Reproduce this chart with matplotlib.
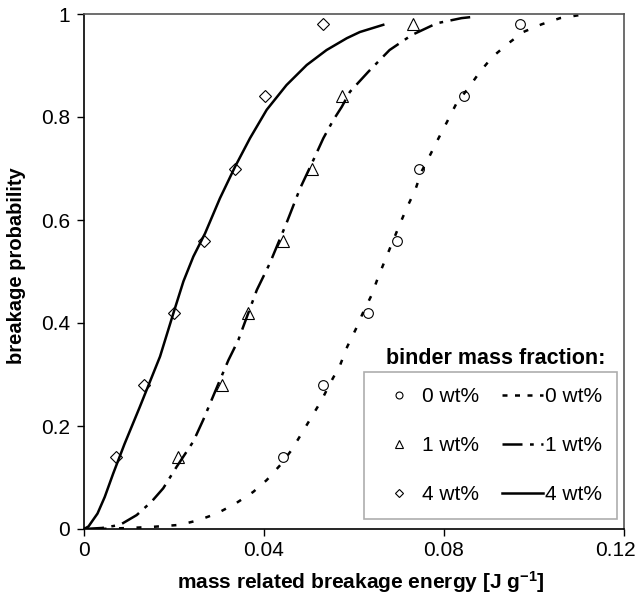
import matplotlib
matplotlib.use("Agg")
import matplotlib.pyplot as plt
from matplotlib.lines import Line2D
from matplotlib.transforms import ScaledTranslation

plt.rcParams['font.family'] = ['Liberation Sans', 'DejaVu Sans']
plt.rcParams['mathtext.fontset'] = 'custom'
plt.rcParams['mathtext.rm'] = 'Liberation Sans:bold'
plt.rcParams['mathtext.default'] = 'rm'

# measured breakage probability (same y levels for every binder fraction)
prob_levels = [0.14, 0.28, 0.42, 0.56, 0.70, 0.84, 0.98]
energy_0wt = [0.0442, 0.0530, 0.0632, 0.0695, 0.0745, 0.0845, 0.0969]
energy_1wt = [0.0208, 0.0306, 0.0365, 0.0443, 0.0506, 0.0573, 0.0730]
energy_4wt = [0.0071, 0.0133, 0.0201, 0.0267, 0.0336, 0.0403, 0.0532]

# fitted curves
fit0_x = [0, 0.005, 0.010, 0.015, 0.0213, 0.0254, 0.0295, 0.0336, 0.0376, 0.0406,
          0.0436, 0.0461, 0.0484, 0.0506, 0.0528, 0.0547, 0.0569, 0.0585, 0.0604,
          0.0621, 0.0639, 0.0652, 0.0669, 0.0701, 0.0717, 0.0736, 0.0750, 0.0769,
          0.0788, 0.0807, 0.0828, 0.0854, 0.0880, 0.0908, 0.0943, 0.0976, 0.1017,
          0.1058, 0.1102, 0.1125]
fit0_y = [0, 0.0005, 0.002, 0.004, 0.008, 0.017, 0.030, 0.049, 0.072, 0.095,
          0.124, 0.153, 0.186, 0.218, 0.250, 0.283, 0.318, 0.354, 0.388,
          0.422, 0.454, 0.485, 0.522, 0.590, 0.623, 0.658, 0.694, 0.726,
          0.759, 0.791, 0.827, 0.856, 0.888, 0.917, 0.943, 0.965, 0.980,
          0.992, 0.998, 1.0]

fit1_x = [0, 0.004, 0.008, 0.0117, 0.0150, 0.0176, 0.0206, 0.0243, 0.0265, 0.0302,
          0.0321, 0.0343, 0.0362, 0.0384, 0.0413, 0.0450, 0.0480, 0.0510, 0.0532,
          0.0554, 0.0573, 0.0591, 0.0632, 0.0679, 0.0728, 0.0784, 0.0839, 0.0860]
fit1_y = [0, 0.002, 0.008, 0.027, 0.053, 0.079, 0.121, 0.170, 0.212, 0.289,
          0.328, 0.367, 0.412, 0.464, 0.516, 0.594, 0.661, 0.717, 0.759,
          0.794, 0.820, 0.849, 0.888, 0.930, 0.959, 0.982, 0.992, 0.994]

fit4_x = [0, 0.001, 0.003, 0.0046, 0.0065, 0.0090, 0.0124, 0.0169, 0.0199, 0.0221,
          0.0243, 0.0269, 0.0302, 0.0336, 0.0369, 0.0406, 0.0450, 0.0495, 0.0539,
          0.0584, 0.0613, 0.0665]
fit4_y = [0, 0.005, 0.030, 0.062, 0.108, 0.165, 0.237, 0.335, 0.420, 0.481,
          0.529, 0.574, 0.642, 0.704, 0.759, 0.814, 0.862, 0.901, 0.930,
          0.953, 0.965, 0.979]

labels = ['0 wt%', '1 wt%', '4 wt%']
xtick_vals = [0, 0.04, 0.08, 0.12]
xtick_labels = ['0', '0.04', '0.08', '0.12']
ytick_vals = [0, 0.2, 0.4, 0.6, 0.8, 1.0]
ytick_labels = ['0', '0.2', '0.4', '0.6', '0.8', '1']

fig = plt.figure(figsize=(6.41, 5.96), dpi=100)
ax = fig.add_axes([84 / 641, 1 - 529 / 596, 540 / 641, 515 / 596])

lw = 1.8
ax.plot(fit0_x, fit0_y, color='black', lw=lw, dashes=(2, 5))
ax.plot(fit1_x, fit1_y, color='black', lw=lw, dashes=(8, 3, 1.5, 3))
ax.plot(fit4_x, fit4_y, color='black', lw=lw)

mk = dict(linestyle='none', color='black', mfc='none', mew=0.8)
ax.plot(energy_0wt, prob_levels, marker='o', ms=7, **mk)
ax.plot(energy_1wt, prob_levels, marker='^', ms=8, **mk)
ax.plot(energy_4wt, prob_levels, marker='D', ms=6.5, **mk)

ax.set_xlim(0, 0.12)
ax.set_ylim(0, 1)
ax.set_xticks(xtick_vals)
ax.set_xticklabels(xtick_labels)
ax.set_yticks(ytick_vals)
ax.set_yticklabels(ytick_labels)
ax.tick_params(direction='out', length=5, width=1, labelsize=15)
ax.tick_params(axis='y', pad=5)
ax.tick_params(axis='x', pad=4)

# last x tick label pulled in so it stays inside the picture
last = ax.get_xticklabels()[-1]
last.set_transform(last.get_transform() + ScaledTranslation(-9 / 100, 0, fig.dpi_scale_trans))

for side in ['left', 'bottom']:
    ax.spines[side].set_color('black')
    ax.spines[side].set_linewidth(1.2)
for side in ['top', 'right']:
    ax.spines[side].set_color('#555555')
    ax.spines[side].set_linewidth(1.2)

ax.set_xlabel('mass related breakage energy [J g$^{-1}$]', fontsize=15, fontweight='bold')
ax.xaxis.set_label_coords(0.513, -0.117)
ax.xaxis.label.set_verticalalignment('baseline')
ax.set_ylabel('breakage probability', fontsize=14.5, fontweight='bold')
ax.yaxis.set_label_coords(-0.107, 0.511)

# legend: markers in the left column, fit lines in the right column
handles = [
    Line2D([], [], marker='o', ms=5, **mk),
    Line2D([], [], marker='^', ms=6, **mk),
    Line2D([], [], marker='D', ms=4.5, **mk),
    Line2D([], [], color='black', lw=lw, dashes=(2, 3)),
    Line2D([], [], color='black', lw=lw, dashes=(8, 3, 1.5, 3)),
    Line2D([], [], color='black', lw=lw),
]
leg = ax.legend(handles, labels + labels, ncol=2, loc='lower right',
                bbox_to_anchor=(0.987, 0.0194), borderaxespad=0,
                fontsize=15, frameon=True, fancybox=False,
                handlelength=2.0, handletextpad=0.1, columnspacing=1.06,
                labelspacing=1.45, borderpad=0.7)
leg.get_frame().set_edgecolor('#999999')
leg.get_frame().set_linewidth(1.2)

ax.text(0.763, 0.332, 'binder mass fraction:', transform=ax.transAxes,
        ha='center', va='center', fontsize=15.5, fontweight='bold')

fig.savefig('out.png', dpi=100)
